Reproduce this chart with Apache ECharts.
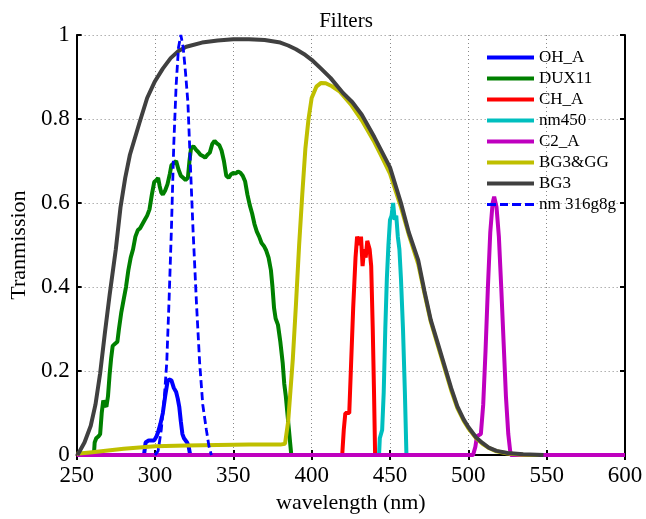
<!DOCTYPE html>
<html><head><meta charset="utf-8">
<script src="https://cdn.jsdelivr.net/npm/echarts@6/dist/echarts.min.js"></script>
<style>html,body{margin:0;padding:0;background:#fff}#c{width:646px;height:519px}</style>
</head><body><div id="c"></div>
<script>
const xTicks = [250,300,350,400,450,500,550,600];
const yTicks = [0,0.2,0.4,0.6,0.8,1];
const seriesNames = ['OH_A','DUX11','CH_A','nm450','C2_A','BG3&GG','BG3','nm 316g8g'];

const ohA = [[293,0],[294,0.03],[296,0.035],[299.5,0.035],[301,0.045],[302,0.055],[303.5,0.075],[305,0.1],[306.5,0.14],[308,0.175],[309,0.18],[310.5,0.178],[312,0.16],[313.5,0.15],[314.5,0.135],[315.5,0.115],[316.5,0.08],[317.5,0.05],[318.5,0.04],[320.5,0.03],[321.5,0.02],[322.5,0]];
const dux11 = [[261,0],[261.5,0.03],[262.5,0.04],[264,0.045],[265,0.05],[266,0.1],[267,0.13],[268,0.12],[269,0.115],[270,0.14],[271,0.19],[272,0.23],[273,0.26],[274.5,0.265],[276,0.27],[277,0.3],[278.5,0.34],[280,0.37],[281.5,0.4],[283,0.44],[284.5,0.47],[286,0.49],[287.5,0.52],[289,0.535],[290.5,0.54],[292,0.55],[293.5,0.56],[295,0.57],[296.5,0.585],[298,0.62],[299.5,0.65],[301,0.655],[302,0.66],[303,0.64],[304,0.625],[305,0.62],[306.5,0.63],[308,0.645],[309.5,0.67],[310.5,0.69],[312,0.695],[313.5,0.7],[315,0.68],[316.5,0.665],[318,0.66],[319.5,0.655],[321,0.66],[322,0.7],[323,0.73],[324.5,0.735],[326,0.728],[327.5,0.722],[329,0.715],[330.5,0.712],[332,0.708],[333.5,0.715],[335,0.72],[336.5,0.74],[338,0.748],[339.5,0.742],[341,0.738],[342.5,0.725],[344,0.7],[345.5,0.665],[347,0.66],[348.5,0.668],[350,0.672],[351.5,0.67],[353,0.675],[354.5,0.672],[356,0.665],[357.5,0.652],[359,0.62],[360.5,0.595],[362,0.575],[363.5,0.55],[365,0.532],[366.5,0.52],[368,0.505],[369.5,0.498],[371,0.487],[372.5,0.47],[374,0.44],[375,0.4],[376,0.35],[377,0.325],[378.5,0.31],[380,0.27],[381.5,0.22],[382.5,0.17],[383.5,0.14],[384.5,0.1],[385.5,0.06],[386.5,0.02],[387,0]];
const chA = [[419.5,0],[420.5,0.06],[421.5,0.1],[424,0.1],[425,0.2],[426.5,0.35],[428,0.47],[429,0.52],[430.5,0.5],[431.5,0.52],[432.5,0.45],[433.5,0.49],[434.5,0.47],[435.5,0.51],[437,0.49],[438,0.45],[439,0.3],[439.8,0.15],[440.5,0]];
const nm450 = [[443,0],[443.5,0.04],[445,0.06],[446,0.15],[447,0.3],[448,0.42],[449,0.5],[450,0.56],[451,0.57],[452,0.6],[453,0.56],[454,0.57],[455,0.52],[456,0.49],[457,0.42],[458.3,0.3],[459.5,0.15],[460.5,0]];
const c2A = [[250,0],[503,0],[504.5,0.02],[505.5,0.045],[508,0.05],[509.5,0.12],[511,0.25],[512.5,0.4],[514,0.53],[515.5,0.6],[516.5,0.615],[518,0.59],[519.5,0.52],[521,0.4],[522.5,0.27],[524,0.14],[525.5,0.05],[527,0],[600,0]];
const bg3gg = [[250,0.003],[260,0.007],[270,0.011],[280,0.015],[290,0.018],[300,0.021],[320,0.023],[340,0.024],[360,0.025],[380,0.025],[383,0.027],[385,0.08],[388,0.23],[390,0.36],[392,0.5],[394,0.62],[396,0.73],[398,0.8],[400,0.85],[403,0.877],[406,0.886],[409,0.885],[413,0.878],[418,0.865],[425,0.835],[432,0.797],[440,0.745],[445,0.708],[450,0.67],[457,0.59],[462,0.525],[468,0.455],[472,0.385],[476,0.318],[481,0.255],[485,0.205],[489,0.155],[493,0.112],[497,0.082],[500,0.064],[505,0.04],[509,0.027],[513,0.017],[518,0.009],[525,0.004],[535,0.001],[545,0]];
const bg3 = [[250.5,0],[252,0.01],[255,0.03],[259,0.07],[262,0.12],[265,0.195],[268,0.29],[271,0.38],[275,0.49],[278,0.59],[281,0.66],[284,0.715],[290,0.79],[295,0.85],[300,0.89],[305,0.92],[310,0.945],[315,0.962],[320,0.972],[330,0.982],[340,0.987],[350,0.99],[360,0.99],[370,0.988],[380,0.982],[385,0.975],[390,0.966],[395,0.955],[400,0.941],[406,0.92],[412,0.898],[420,0.862],[426,0.84],[432,0.81],[440,0.757],[450,0.685],[457,0.6],[462,0.53],[468,0.464],[472,0.39],[476,0.322],[481,0.26],[485,0.21],[489,0.16],[493,0.116],[497,0.085],[500,0.067],[505,0.042],[509,0.029],[513,0.018],[518,0.01],[525,0.005],[535,0.002],[548,0]];
const nm316 = [[300,0],[302,0.01],[304,0.06],[306,0.14],[307.5,0.22],[309,0.37],[310.5,0.54],[312,0.74],[313.5,0.88],[315,0.97],[316.5,1.0],[318,0.97],[319.5,0.91],[321,0.84],[322.5,0.7],[324.3,0.535],[326.5,0.36],[328.5,0.22],[330.5,0.12],[332.8,0.06],[334.5,0.02],[336,0]];

const allData = [ohA, dux11, chA, nm450, c2A, bg3gg, bg3, nm316];
const colors = ['#0000ff','#008000','#ff0000','#00bfbf','#bf00bf','#bfbf00','#404040','#0000ff'];
const widths = [4,4,4,4,4,4,4,2.8];
const FONT = 'Liberation Serif';
const solidIcon = 'path://M0,0h47v4h-47z';
const dashIcon = 'path://M0,0h9v3h-9z M13,0h8v3h-8z M25,0h9v3h-9z M38,0h9v3h-9z';

const series = allData.map((d,i)=>({
  name: seriesNames[i], type:'line', data:d, showSymbol:false, symbol:'none',
  animation:false,
  lineStyle:{color:colors[i], width:widths[i], type: i===7 ? [8,4] : 'solid'},
  itemStyle:{color:colors[i]}
}));

const chart = echarts.init(document.getElementById('c'));
chart.setOption({
  animation:false,
  title:{text:'Filters', left:341, textAlign:'center', top:6, textStyle:{fontFamily:FONT, fontSize:21, fontWeight:'normal', color:'#000'}},
  grid:{left:74, right:21, top:35, bottom:61},
  legend:{left:487, top:49, orient:'vertical', padding:0, itemWidth:47, itemHeight:4, itemGap:4,
    data: seriesNames.map((n,i)=>({name:n, icon: i===7 ? dashIcon : solidIcon})),
    textStyle:{fontFamily:FONT, fontSize:17, color:'#000', lineHeight:14}},
  xAxis:[{type:'value', min:250, max:600, interval:50,
      name:'wavelength (nm)', nameLocation:'middle', nameGap:34,
      nameTextStyle:{fontFamily:FONT, fontSize:22, color:'#000'},
      axisLine:{lineStyle:{color:'#000', width:2}},
      axisTick:{inside:true, length:5, lineStyle:{color:'#000', width:2}},
      axisLabel:{fontFamily:FONT, fontSize:23, color:'#000', margin:9},
      splitLine:{show:true, lineStyle:{color:'#888', width:1, type:[1,3]}}},
    {type:'value', min:250, max:600, interval:50, position:'top',
      axisLine:{lineStyle:{color:'#000', width:2}},
      axisTick:{inside:true, length:5, lineStyle:{color:'#000', width:2}},
      axisLabel:{show:false}, splitLine:{show:false}}],
  yAxis:[{type:'value', min:0, max:1, interval:0.2,
      name:'Tranmission', nameLocation:'middle', nameGap:46,
      nameTextStyle:{fontFamily:FONT, fontSize:22, color:'#000'},
      axisLine:{lineStyle:{color:'#000', width:2}},
      axisTick:{inside:true, length:5, lineStyle:{color:'#000', width:2}},
      axisLabel:{fontFamily:FONT, fontSize:23, color:'#000', margin:7},
      splitLine:{show:true, lineStyle:{color:'#888', width:1, type:[1,3]}}},
    {type:'value', min:0, max:1, interval:0.2, position:'right',
      axisLine:{show:true, lineStyle:{color:'#000', width:2}},
      axisTick:{show:true, inside:true, length:5, lineStyle:{color:'#000', width:2}},
      axisLabel:{show:false}, splitLine:{show:false}}],
  series: series
});
</script></body></html>
